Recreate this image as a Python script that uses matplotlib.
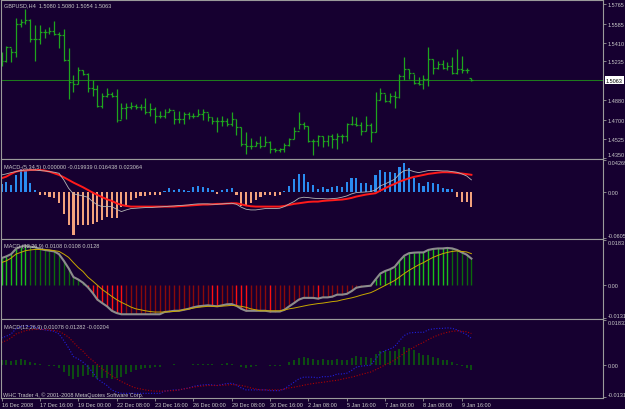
import numpy as np
import matplotlib
matplotlib.use("Agg")
import matplotlib.pyplot as plt

plt.rcParams['font.family'] = ['Liberation Sans', 'DejaVu Sans']

# GBPUSD H4 bars, 16 Dec 2008 .. 9 Jan 2009 ########################################
opens = [1.5300, 1.5235, 1.5368, 1.5322, 1.5584, 1.5599, 1.5615, 1.5439, 1.5439, 1.5507,
         1.5507, 1.5513, 1.5491, 1.5482, 1.5245, 1.5044, 1.5029, 1.5161, 1.5121, 1.4989,
         1.4983, 1.4828, 1.4921, 1.4936, 1.4915, 1.4699, 1.4804, 1.4813, 1.4822, 1.4813,
         1.4813, 1.4767, 1.4798, 1.4736, 1.4730, 1.4767, 1.4791, 1.4705, 1.4705, 1.4751,
         1.4736, 1.4736, 1.4751, 1.4767, 1.4721, 1.4690, 1.4690, 1.4690, 1.4659, 1.4705,
         1.4628, 1.4474, 1.4458, 1.4458, 1.4483, 1.4458, 1.4489, 1.4428, 1.4421, 1.4428,
         1.4465, 1.4520, 1.4597, 1.4659, 1.4643, 1.4505, 1.4505, 1.4545, 1.4505, 1.4551,
         1.4520, 1.4545, 1.4545, 1.4659, 1.4659, 1.4650, 1.4597, 1.4650, 1.4588, 1.4884,
         1.4946, 1.4875, 1.4915, 1.4906, 1.5100, 1.5168, 1.5131, 1.5038, 1.5029, 1.5075,
         1.5254, 1.5174, 1.5214, 1.5174, 1.5198, 1.5131, 1.5168, 1.5152, 1.5080]
highs = [1.5322, 1.5377, 1.5359, 1.5636, 1.5624, 1.5723, 1.5630, 1.5575, 1.5575, 1.5538,
         1.5553, 1.5605, 1.5507, 1.5531, 1.5359, 1.5112, 1.5183, 1.5161, 1.5131, 1.5060,
         1.5020, 1.4946, 1.4989, 1.4958, 1.4983, 1.4853, 1.4853, 1.4859, 1.4844, 1.4844,
         1.4896, 1.4853, 1.4813, 1.4782, 1.4798, 1.4804, 1.4782, 1.4782, 1.4767, 1.4767,
         1.4761, 1.4798, 1.4798, 1.4761, 1.4721, 1.4721, 1.4730, 1.4711, 1.4767, 1.4705,
         1.4628, 1.4582, 1.4526, 1.4505, 1.4551, 1.4551, 1.4505, 1.4434, 1.4434, 1.4483,
         1.4526, 1.4628, 1.4767, 1.4680, 1.4643, 1.4520, 1.4557, 1.4551, 1.4557, 1.4566,
         1.4576, 1.4566, 1.4668, 1.4736, 1.4721, 1.4674, 1.4730, 1.4668, 1.4958, 1.4989,
         1.4936, 1.4942, 1.4967, 1.5121, 1.5275, 1.5168, 1.5121, 1.5091, 1.5106, 1.5368,
         1.5260, 1.5235, 1.5245, 1.5229, 1.5275, 1.5346, 1.5285, 1.5174, 1.5080]
lows = [1.5198, 1.5229, 1.5229, 1.5275, 1.5553, 1.5584, 1.5414, 1.5235, 1.5399, 1.5451,
        1.5491, 1.5482, 1.5359, 1.5235, 1.4890, 1.4958, 1.5029, 1.5106, 1.4952, 1.4921,
        1.4813, 1.4804, 1.4906, 1.4906, 1.4680, 1.4705, 1.4705, 1.4798, 1.4798, 1.4791,
        1.4751, 1.4736, 1.4668, 1.4711, 1.4711, 1.4767, 1.4659, 1.4668, 1.4659, 1.4705,
        1.4711, 1.4730, 1.4699, 1.4690, 1.4659, 1.4582, 1.4643, 1.4643, 1.4637, 1.4557,
        1.4458, 1.4381, 1.4428, 1.4458, 1.4434, 1.4458, 1.4391, 1.4403, 1.4403, 1.4403,
        1.4458, 1.4520, 1.4613, 1.4613, 1.4495, 1.4372, 1.4458, 1.4443, 1.4458, 1.4434,
        1.4428, 1.4483, 1.4505, 1.4650, 1.4643, 1.4557, 1.4597, 1.4495, 1.4582, 1.4884,
        1.4859, 1.4853, 1.4804, 1.4896, 1.5069, 1.5075, 1.5029, 1.5020, 1.4983, 1.5007,
        1.5121, 1.5168, 1.5168, 1.5161, 1.5121, 1.5121, 1.5131, 1.5131, 1.5054]
closes = [1.5235, 1.5368, 1.5322, 1.5584, 1.5599, 1.5615, 1.5439, 1.5439, 1.5507, 1.5507,
          1.5513, 1.5491, 1.5482, 1.5245, 1.5044, 1.5029, 1.5161, 1.5121, 1.4989, 1.4983,
          1.4828, 1.4921, 1.4936, 1.4915, 1.4699, 1.4804, 1.4813, 1.4822, 1.4813, 1.4813,
          1.4767, 1.4798, 1.4736, 1.4730, 1.4767, 1.4791, 1.4705, 1.4705, 1.4751, 1.4736,
          1.4736, 1.4751, 1.4767, 1.4721, 1.4690, 1.4690, 1.4690, 1.4659, 1.4705, 1.4628,
          1.4474, 1.4458, 1.4458, 1.4483, 1.4458, 1.4489, 1.4428, 1.4421, 1.4428, 1.4465,
          1.4520, 1.4597, 1.4659, 1.4643, 1.4505, 1.4505, 1.4545, 1.4505, 1.4551, 1.4520,
          1.4545, 1.4545, 1.4659, 1.4659, 1.4650, 1.4597, 1.4650, 1.4588, 1.4884, 1.4946,
          1.4875, 1.4915, 1.4906, 1.5100, 1.5168, 1.5131, 1.5038, 1.5029, 1.5075, 1.5254,
          1.5174, 1.5214, 1.5174, 1.5198, 1.5131, 1.5168, 1.5152, 1.5158, 1.5063]
last_price = 1.5063
price_ticks = [1.5765, 1.5585, 1.5410, 1.5235, 1.4880, 1.4700, 1.4525, 1.4350]

# MACD (5,34,5) window ################################################################
hist1 = [0.0110, 0.0141, 0.0097, 0.0229, 0.0304, 0.0295, 0.0128, 0.0031, -0.0035, -0.0035,
         -0.0057, -0.0079, -0.0137, -0.0287, -0.0432, -0.0565, -0.0432, -0.0432, -0.0432, -0.0419,
         -0.0388, -0.0366, -0.0322, -0.0344, -0.0344, -0.0190, -0.0168, -0.0101, -0.0079, -0.0049,
         -0.0049, -0.0035, -0.0035, -0.0035, 0.0022, 0.0053, 0.0031, 0.0040, 0.0031, 0.0022,
         0.0075, 0.0088, 0.0075, 0.0053, 0.0031, -0.0022, 0.0031, 0.0040, 0.0053, -0.0035,
         -0.0181, -0.0168, -0.0137, -0.0101, -0.0066, -0.0035, -0.0035, -0.0044, -0.0035, 0.0022,
         0.0084, 0.0172, 0.0243, 0.0243, 0.0141, 0.0093, 0.0040, 0.0066, 0.0040, 0.0075,
         0.0084, 0.0066, 0.0141, 0.0185, 0.0185, 0.0119, 0.0119, 0.0097, 0.0229, 0.0295,
         0.0273, 0.0273, 0.0251, 0.0331, 0.0384, 0.0318, 0.0185, 0.0119, 0.0084, 0.0141,
         0.0119, 0.0110, 0.0053, 0.0040, 0.0040, -0.0057, -0.0124, -0.0124, -0.0199]
fast1 = [0.0229, 0.0243, 0.0260, 0.0273, 0.0287, 0.0295, 0.0295, 0.0295, 0.0287, 0.0282,
         0.0273, 0.0265, 0.0251, 0.0163, 0.0053, -0.0022, -0.0035, -0.0049, -0.0066, -0.0124,
         -0.0168, -0.0190, -0.0190, -0.0190, -0.0225, -0.0256, -0.0234, -0.0216, -0.0212, -0.0207,
         -0.0203, -0.0203, -0.0198, -0.0194, -0.0190, -0.0185, -0.0181, -0.0176, -0.0172, -0.0168,
         -0.0159, -0.0154, -0.0154, -0.0154, -0.0159, -0.0159, -0.0154, -0.0150, -0.0146, -0.0159,
         -0.0198, -0.0225, -0.0234, -0.0234, -0.0225, -0.0216, -0.0216, -0.0216, -0.0212, -0.0190,
         -0.0154, -0.0124, -0.0079, -0.0066, -0.0071, -0.0079, -0.0084, -0.0084, -0.0088, -0.0084,
         -0.0079, -0.0066, -0.0049, -0.0022, -0.0004, 0.0000, 0.0004, 0.0009, 0.0031, 0.0084,
         0.0110, 0.0141, 0.0172, 0.0243, 0.0287, 0.0295, 0.0273, 0.0260, 0.0273, 0.0287,
         0.0287, 0.0287, 0.0282, 0.0282, 0.0273, 0.0265, 0.0243, 0.0216, 0.0164]
slow1 = [0.0185, 0.0207, 0.0243, 0.0273, 0.0287, 0.0287, 0.0295, 0.0295, 0.0295, 0.0287,
         0.0273, 0.0251, 0.0229, 0.0198, 0.0163, 0.0128, 0.0097, 0.0066, 0.0031, -0.0004,
         -0.0035, -0.0066, -0.0093, -0.0115, -0.0146, -0.0168, -0.0181, -0.0190, -0.0190, -0.0190,
         -0.0190, -0.0190, -0.0190, -0.0190, -0.0190, -0.0190, -0.0190, -0.0185, -0.0181, -0.0176,
         -0.0172, -0.0168, -0.0163, -0.0163, -0.0159, -0.0154, -0.0154, -0.0150, -0.0146, -0.0146,
         -0.0159, -0.0176, -0.0185, -0.0190, -0.0190, -0.0190, -0.0190, -0.0190, -0.0190, -0.0181,
         -0.0168, -0.0154, -0.0146, -0.0137, -0.0128, -0.0124, -0.0124, -0.0115, -0.0110, -0.0106,
         -0.0101, -0.0097, -0.0088, -0.0075, -0.0057, -0.0044, -0.0031, -0.0022, -0.0013, 0.0022,
         0.0053, 0.0084, 0.0110, 0.0141, 0.0163, 0.0185, 0.0203, 0.0216, 0.0229, 0.0243,
         0.0251, 0.0260, 0.0265, 0.0265, 0.0262, 0.0255, 0.0248, 0.0240, 0.0231]
range1 = [-0.06057, 0.04269]

# MACD (12,26,9): main line and signal, shared by the two lower windows ################
macd = [0.0110, 0.0117, 0.0126, 0.0147, 0.0156, 0.0160, 0.0156, 0.0154, 0.0147, 0.0143,
        0.0140, 0.0137, 0.0126, 0.0099, 0.0069, 0.0034, 0.0024, 0.0011, -0.0007, -0.0030,
        -0.0057, -0.0071, -0.0084, -0.0102, -0.0111, -0.0116, -0.0116, -0.0116, -0.0116, -0.0116,
        -0.0116, -0.0116, -0.0116, -0.0116, -0.0107, -0.0105, -0.0102, -0.0102, -0.0098, -0.0094,
        -0.0088, -0.0084, -0.0082, -0.0080, -0.0082, -0.0084, -0.0080, -0.0076, -0.0075, -0.0082,
        -0.0094, -0.0102, -0.0102, -0.0102, -0.0102, -0.0102, -0.0105, -0.0105, -0.0105, -0.0098,
        -0.0084, -0.0071, -0.0057, -0.0050, -0.0050, -0.0050, -0.0053, -0.0048, -0.0048, -0.0045,
        -0.0037, -0.0037, -0.0034, -0.0023, -0.0009, -0.0005, -0.0003, -0.0001, 0.0024, 0.0048,
        0.0058, 0.0065, 0.0075, 0.0099, 0.0120, 0.0130, 0.0132, 0.0133, 0.0133, 0.0143,
        0.0147, 0.0149, 0.0149, 0.0151, 0.0149, 0.0143, 0.0133, 0.0124, 0.0108]
signal = [0.0092, 0.0099, 0.0110, 0.0126, 0.0133, 0.0140, 0.0143, 0.0145, 0.0145, 0.0144,
          0.0143, 0.0140, 0.0137, 0.0126, 0.0113, 0.0092, 0.0072, 0.0056, 0.0034, 0.0018,
          0.0001, -0.0016, -0.0030, -0.0044, -0.0057, -0.0068, -0.0077, -0.0087, -0.0094, -0.0098,
          -0.0102, -0.0105, -0.0107, -0.0107, -0.0107, -0.0105, -0.0105, -0.0102, -0.0098, -0.0095,
          -0.0091, -0.0088, -0.0086, -0.0084, -0.0084, -0.0084, -0.0083, -0.0082, -0.0080, -0.0082,
          -0.0084, -0.0088, -0.0094, -0.0098, -0.0102, -0.0102, -0.0102, -0.0102, -0.0102, -0.0099,
          -0.0094, -0.0091, -0.0087, -0.0083, -0.0079, -0.0076, -0.0073, -0.0071, -0.0068, -0.0065,
          -0.0063, -0.0058, -0.0054, -0.0050, -0.0045, -0.0039, -0.0034, -0.0029, -0.0020, -0.0010,
          0.0000, 0.0010, 0.0020, 0.0034, 0.0048, 0.0061, 0.0072, 0.0083, 0.0092, 0.0103,
          0.0113, 0.0121, 0.0128, 0.0133, 0.0137, 0.0139, 0.0137, 0.0135, 0.0128]
range2 = [-0.0131, 0.0183]
range3 = [-0.0131, 0.01832]

time_pos = [0, 8, 16, 24, 32, 40, 48, 56, 64, 72, 80, 88, 96]
time_labels = ['16 Dec 2008', '17 Dec 16:00', '19 Dec 00:00', '22 Dec 08:00', '23 Dec 16:00',
               '26 Dec 00:00', '29 Dec 08:00', '30 Dec 16:00', '2 Jan 08:00', '5 Jan 16:00',
               '7 Jan 00:00', '8 Jan 08:00', '9 Jan 16:00']

# figure layout in screen pixels ######################################################
W, H = 625, 410
BG = '#160030'
FG = '#c8c8c8'
FRAME = '#9a9a9a'
FS = 4.0
bar_px = 4.795   # pixels per bar
bar0_px = 1.5    # pixel column of the first bar
xlim = ((1 - bar0_px) / bar_px, (603 - bar0_px) / bar_px)

fig = plt.figure(figsize=(W / 100, H / 100), dpi=100, facecolor=BG)


def panel(top, bottom):
    ax = fig.add_axes([1 / W, 1 - bottom / H, 602 / W, (bottom - top) / H])
    ax.set_facecolor(BG)
    ax.set_xlim(xlim)
    for s in ax.spines.values():
        s.set_color(FRAME)
        s.set_linewidth(0.8)
    ax.yaxis.tick_right()
    ax.tick_params(axis='y', colors=FRAME, labelcolor=FG, labelsize=FS, length=2.5, width=0.6, pad=1)
    ax.set_xticks([])
    return ax


def sub_ticks(ax, lo, hi, digits):
    pad = (hi - lo) / 78
    ax.set_ylim(lo - pad, hi + pad)
    ax.set_yticks([hi, 0, lo])
    ax.set_yticklabels([f'{hi:.{digits}f}', '0.00', f'{lo:.{digits}f}'])
    labs = ax.get_yticklabels()
    labs[0].set_va('top')
    labs[2].set_va('bottom')


x = np.arange(len(closes))

# main price window
ax0 = panel(1, 160)
ppx = (1.5765 - 1.4350) / 153.5
ax0.set_ylim(1.4350 - 1.5 * ppx, 1.5765 + 4 * ppx)
ax0.set_yticks(price_ticks)
ax0.set_yticklabels([f'{p:.4f}' for p in price_ticks])
labs = ax0.get_yticklabels()
labs[-1].set_va('bottom')
ax0.axhline(last_price, color='#1d7a1d', lw=0.75, zorder=1)
bar_col = '#1ea51e'
ax0.vlines(x, lows, highs, color=bar_col, lw=0.9, zorder=2)
ax0.hlines(opens, x - 0.4, x, color=bar_col, lw=0.9, zorder=2)
ax0.hlines(closes, x, x + 0.4, color=bar_col, lw=0.9, zorder=2)
ax0.annotate(f'{last_price:.4f}', xy=(1, last_price), xycoords=('axes fraction', 'data'),
             xytext=(3, 0), textcoords='offset pixels', ha='left', va='center',
             fontsize=FS, color='black',
             bbox=dict(boxstyle='square,pad=0.25', fc='white', ec='none'))

# MACD (5,34,5)
ax1 = panel(160, 240)
sub_ticks(ax1, range1[0], range1[1], 5)
h1 = np.array(hist1)
ax1.bar(x, h1, width=0.45, color=np.where(h1 >= 0, '#2a8cf0', '#f2a27c'), lw=0)
ax1.plot(x, slow1, color='#ff1a1a', lw=1.4)
ax1.plot(x, fast1, color='#b4b4b4', lw=0.6)

# MACD (12,26,9) histogram coloured by direction
ax2 = panel(240, 320)
sub_ticks(ax2, range2[0], range2[1], 4)
m = np.array(macd)
rising = np.r_[True, np.diff(m) >= 0]
cols = np.where(m >= 0, np.where(rising, '#18c018', '#0b6a0b'),
                np.where(rising, '#8a0a0a', '#ff1010'))
ax2.vlines(x, 0, m, colors=cols, lw=1.0)
ax2.plot(x, macd, color='#8c8c8c', lw=1.5)
ax2.plot(x, signal, color='#c8a800', lw=0.7)

# MACD (12,26,9) classic, dotted lines
ax3 = panel(320, 399)
sub_ticks(ax3, range3[0], range3[1], 5)
ax3.vlines(x, 0, m - np.array(signal), color='#0c5c0c', lw=1.2)
ax3.plot(x, macd, color='#2020e0', lw=0.8, ls=(0, (1, 1.5)))
ax3.plot(x, signal, color='#b00000', lw=0.8, ls=(0, (1, 1.5)))
ax3.set_xticks(time_pos)
ax3.set_xticklabels(time_labels)
ax3.tick_params(axis='x', colors=FRAME, labelcolor=FG, labelsize=FS, length=2, width=0.6, pad=0.8)
for lab in ax3.get_xticklabels():
    lab.set_ha('left')

# window captions
def caption(px, py, text):
    fig.text(px / W, 1 - py / H, text, color=FG, fontsize=FS, ha='left', va='center')

caption(4, 6, 'GBPUSD,H4  1.5080 1.5080 1.5054 1.5063')
caption(4, 168, 'MACD-(5,34,5) 0.000000 -0.019939 0.016438 0.023064')
caption(4, 247, 'MACD (12,26,9) 0.0108 0.0108 0.0128')
caption(4, 327, 'MACD(12,26,9) 0.01078 0.01282 -0.00204')
caption(3, 395, 'WHC Trader 4, \u00a9 2001-2008 MetaQuotes Software Corp.')

fig.savefig('out.png', dpi=100, facecolor=BG)
